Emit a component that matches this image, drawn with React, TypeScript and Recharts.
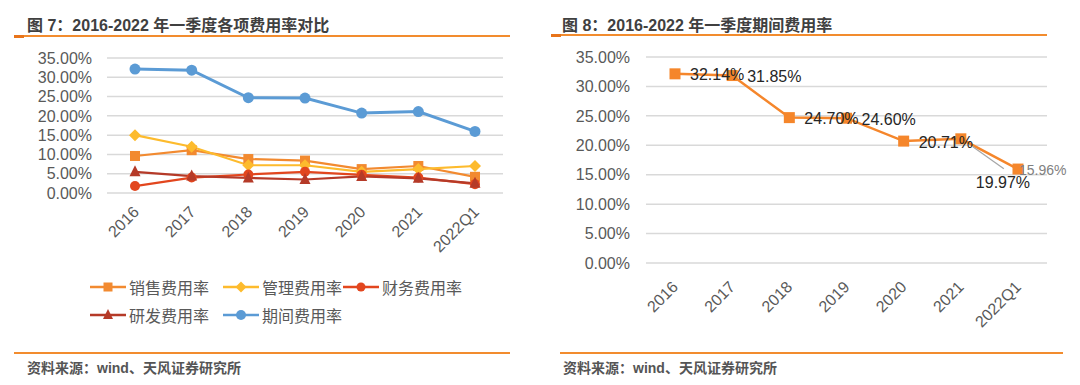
import { LineChart, Line, XAxis, YAxis, CartesianGrid, LabelList } from 'recharts';

const years = ['2016', '2017', '2018', '2019', '2020', '2021', '2022Q1'];
const salesRate = [9.6, 11.1, 8.8, 8.4, 6.2, 7.0, 4.2];
const adminRate = [15.0, 12.0, 7.2, 7.2, 5.5, 6.2, 7.0];
const financeRate = [1.8, 4.0, 4.8, 5.5, 4.7, 4.0, 2.3];
const rdRate = [5.5, 4.4, 3.9, 3.5, 4.3, 3.8, 2.5];
const periodRate = [32.14, 31.85, 24.7, 24.6, 20.71, 21.1, 15.96];
const periodLabels = ['32.14%', '31.85%', '24.70%', '24.60%', '20.71%', '19.97%', '15.96%'];
const yTicks = [0, 5, 10, 15, 20, 25, 30, 35];

const FONT = "'Liberation Sans', 'Noto Sans CJK SC', sans-serif";
const ORANGE_RULE = '#F28C2E';
const TICK_COLOR = '#595959';
const GRID = '#d9d9d9';

const SERIES = [
  { key: 'sales', name: '销售费用率', color: '#F28A30', shape: 'square', size: 10, width: 2.2, values: salesRate },
  { key: 'admin', name: '管理费用率', color: '#FDBB2D', shape: 'diamond', size: 10, width: 2.2, values: adminRate },
  { key: 'finance', name: '财务费用率', color: '#E2461E', shape: 'circle', size: 10, width: 2.2, values: financeRate },
  { key: 'rd', name: '研发费用率', color: '#B53A28', shape: 'triangle', size: 11, width: 2.2, values: rdRate },
  { key: 'period', name: '期间费用率', color: '#5B9BD5', shape: 'circle', size: 11, width: 3, values: periodRate },
];

const compareData = years.map((year, i) => {
  const row: Record<string, string | number> = { year };
  SERIES.forEach((s) => (row[s.key] = s.values[i]));
  return row;
});

const periodData = years.map((year, i) => ({ year, value: periodRate[i] }));

/** Draws one marker shape centred on (cx, cy). */
function Marker({ cx, cy, shape, color, size }: { cx: number; cy: number; shape: string; color: string; size: number }) {
  if (cx == null || cy == null) return null;
  const s = size / 2;
  if (shape === 'square') return <rect x={cx - s} y={cy - s} width={size} height={size} fill={color} />;
  if (shape === 'diamond')
    return <polygon points={`${cx},${cy - s - 1} ${cx + s + 1},${cy} ${cx},${cy + s + 1} ${cx - s - 1},${cy}`} fill={color} />;
  if (shape === 'triangle')
    return <polygon points={`${cx},${cy - s - 1} ${cx + s},${cy + s - 1} ${cx - s},${cy + s - 1}`} fill={color} />;
  return <circle cx={cx} cy={cy} r={s} fill={color} />;
}

function makeXTick(dx: number, dy: number) {
  return function XTick({ x, y, payload }: any) {
    return (
      <g transform={`translate(${x + dx},${y + dy})`}>
        <text x={0} y={0} textAnchor="end" transform="rotate(-45)" fill={TICK_COLOR} fontSize={16} fontFamily={FONT}>
          {payload.value}
        </text>
      </g>
    );
  };
}

const fmtPct = (v: number) => `${v.toFixed(2)}%`;

/** Data labels for the period-rate chart, one leader line for 2021. */
function PeriodLabel(props: any) {
  const { x, y, index } = props;
  const text = periodLabels[index];
  if (index === 5) {
    return (
      <g>
        <line x1={x + 12} y1={y + 8} x2={x + 43} y2={y + 30} stroke="#a6a6a6" strokeWidth={1.2} />
        <text x={x + 15} y={y + 44} dominantBaseline="central" fill="#262626" fontSize={16} fontFamily={FONT}>
          {text}
        </text>
      </g>
    );
  }
  if (index === 6) {
    return (
      <text x={x + 1} y={y + 1} dominantBaseline="central" fill="#808080" fontSize={14} fontFamily={FONT}>
        {text}
      </text>
    );
  }
  return (
    <text x={x + 15} y={y + 1} dominantBaseline="central" fill="#262626" fontSize={16} fontFamily={FONT}>
      {text}
    </text>
  );
}

function LegendIcon({ shape, color, size }: { shape: string; color: string; size: number }) {
  return (
    <svg width={36} height={14} style={{ display: 'block' }}>
      <line x1={0} y1={7} x2={36} y2={7} stroke={color} strokeWidth={2.5} />
      <Marker cx={18} cy={7} shape={shape} color={color} size={size - 1} />
    </svg>
  );
}

const legendPos = [
  [90, 287],
  [223, 287],
  [343, 287],
  [90, 315],
  [223, 315],
];

function Title({ left, text }: { left: number; text: string }) {
  return (
    <div style={{ position: 'absolute', left, top: 12, fontSize: 16, fontWeight: 700, color: '#404040', fontFamily: FONT, whiteSpace: 'nowrap' }}>
      {text}
    </div>
  );
}

function Rule({ left, width, top }: { left: number; width: number; top: number }) {
  return <div style={{ position: 'absolute', left, top, width, height: 2, background: ORANGE_RULE }} />;
}

function Source({ left }: { left: number }) {
  return (
    <div style={{ position: 'absolute', left, top: 357, fontSize: 14, fontWeight: 700, color: '#555', fontFamily: FONT, whiteSpace: 'nowrap' }}>
      资料来源：wind、天风证券研究所
    </div>
  );
}

export default function App() {
  return (
    <div style={{ position: 'absolute', left: 0, top: 0, width: 1080, height: 385, background: '#fff', overflow: 'hidden', fontFamily: FONT }}>
      <Title left={27} text="图 7：2016-2022 年一季度各项费用率对比" />
      <Title left={562} text="图 8：2016-2022 年一季度期间费用率" />
      <Rule left={14} width={496} top={35} />
      <div style={{ position: 'absolute', left: 14, top: 35, width: 10, height: 3, background: '#E8741A' }} />
      <Rule left={551} width={496} top={34} />
      <div style={{ position: 'absolute', left: 551, top: 34, width: 10, height: 3, background: '#E8741A' }} />
      <Rule left={14} width={496} top={352} />
      <Rule left={560} width={503} top={352} />
      <Source left={27} />
      <Source left={563} />

      <div style={{ position: 'absolute', left: 0, top: 0 }}>
        <LineChart width={540} height={385} data={compareData} margin={{ top: 58, right: 37, left: 0, bottom: 132 }}>
          <CartesianGrid vertical={false} stroke={GRID} strokeWidth={1.5} />
          <XAxis
            dataKey="year"
            height={60}
            padding={{ left: 28, right: 28 }}
            axisLine={false}
            tickLine={false}
            tickSize={0}
            tickMargin={0}
            interval={0}
            tick={makeXTick(5, 20)}
          />
          <YAxis
            width={107}
            domain={[0, 35]}
            ticks={yTicks}
            interval={0}
            axisLine={false}
            tickLine={false}
            tickMargin={9}
            tickFormatter={fmtPct}
            tick={{ fill: TICK_COLOR, fontSize: 16, fontFamily: FONT }}
          />
          {SERIES.map((s) => (
            <Line
              key={s.key}
              dataKey={s.key}
              name={s.name}
              stroke={s.color}
              strokeWidth={s.width}
              isAnimationActive={false}
              dot={(p: any) => <Marker key={`${s.key}-${p.index}`} cx={p.cx} cy={p.cy} shape={s.shape} color={s.color} size={s.size} />}
              activeDot={false}
            />
          ))}
        </LineChart>
      </div>

      {SERIES.map((s, i) => (
        <div
          key={s.key}
          style={{ position: 'absolute', left: legendPos[i][0], top: legendPos[i][1] - 11, height: 22, display: 'flex', alignItems: 'center', gap: 3 }}
        >
          <LegendIcon shape={s.shape} color={s.color} size={s.size} />
          <span style={{ fontSize: 16, color: TICK_COLOR, whiteSpace: 'nowrap' }}>{s.name}</span>
        </div>
      ))}

      <div style={{ position: 'absolute', left: 540, top: 0 }}>
        <LineChart width={540} height={385} data={periodData} margin={{ top: 57, right: 33, left: 0, bottom: 62 }}>
          <CartesianGrid vertical={false} stroke={GRID} strokeWidth={1.5} />
          <XAxis
            dataKey="year"
            height={60}
            padding={{ left: 29, right: 29 }}
            axisLine={false}
            tickLine={false}
            tickSize={0}
            tickMargin={0}
            interval={0}
            tick={makeXTick(4, 25)}
          />
          <YAxis
            width={106}
            domain={[0, 35]}
            ticks={yTicks}
            interval={0}
            axisLine={false}
            tickLine={false}
            tickMargin={10}
            tickFormatter={fmtPct}
            tick={{ fill: TICK_COLOR, fontSize: 16, fontFamily: FONT }}
          />
          <Line
            dataKey="value"
            stroke="#F5862B"
            strokeWidth={2.5}
            isAnimationActive={false}
            dot={(p: any) => <Marker key={`p-${p.index}`} cx={p.cx} cy={p.cy} shape="square" color="#F5862B" size={11} />}
            activeDot={false}
          >
            <LabelList dataKey="value" content={PeriodLabel} />
          </Line>
        </LineChart>
      </div>
    </div>
  );
}
